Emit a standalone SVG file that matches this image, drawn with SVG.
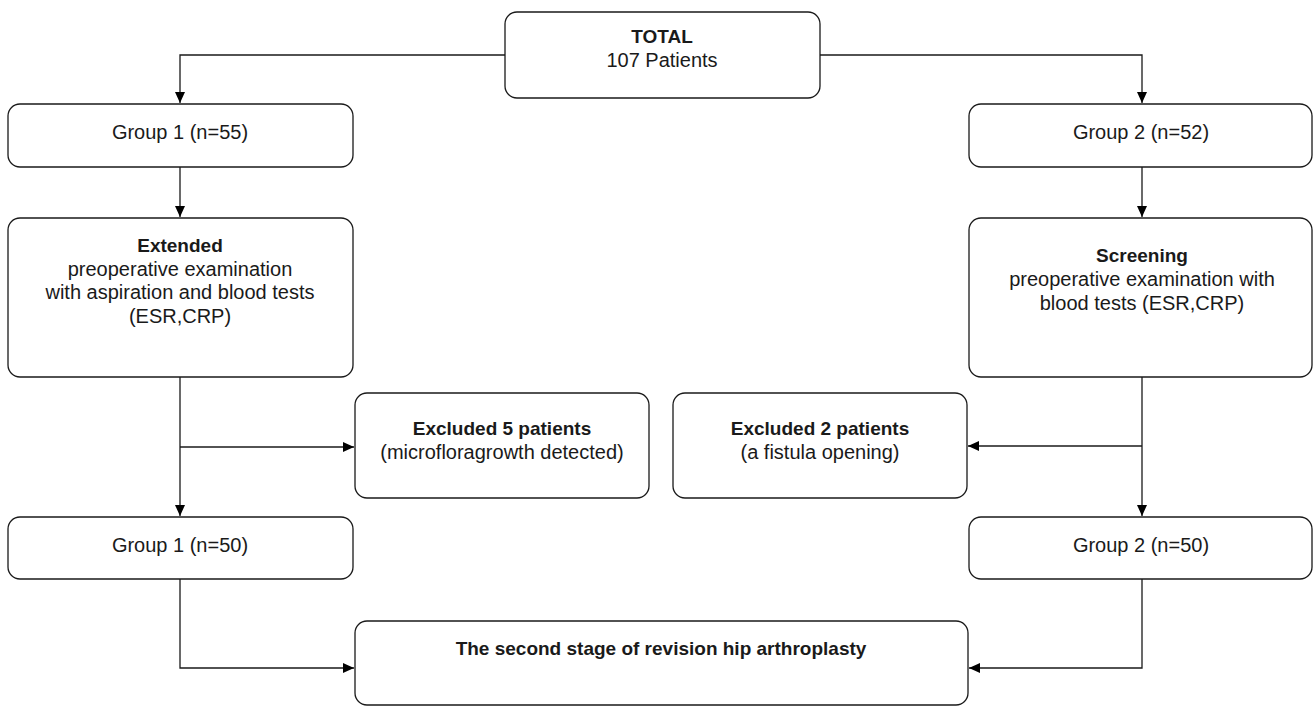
<svg xmlns="http://www.w3.org/2000/svg" width="1313" height="706" viewBox="0 0 1313 706">
<style>
.box{fill:#fff;stroke:#1a1a1a;stroke-width:1.3}
.t{font-family:"Liberation Sans",Arial,sans-serif;font-size:20px;fill:#1a1a1a;text-anchor:middle}
.b{font-weight:bold;font-size:19px}
.c{fill:none;stroke:#1a1a1a;stroke-width:1.3}
</style>
<defs>
<marker id="ah" markerUnits="userSpaceOnUse" markerWidth="12" markerHeight="10" refX="11" refY="5" orient="auto">
<path d="M0,0 L11,5 L0,10 Z" fill="#000"/>
</marker>
</defs>
<rect width="1313" height="706" fill="#fff"/>
<g id="connectors">
<path class="c" d="M505,55 H180 V103" marker-end="url(#ah)"/>
<path class="c" d="M820,55 H1142 V103" marker-end="url(#ah)"/>
<path class="c" d="M180,167 V217" marker-end="url(#ah)"/>
<path class="c" d="M1142,167 V217" marker-end="url(#ah)"/>
<path class="c" d="M180,377 V516" marker-end="url(#ah)"/>
<path class="c" d="M180,447 H354" marker-end="url(#ah)"/>
<path class="c" d="M1142,377 V516" marker-end="url(#ah)"/>
<path class="c" d="M1142,446 H968" marker-end="url(#ah)"/>
<path class="c" d="M180,579 V668 H354" marker-end="url(#ah)"/>
<path class="c" d="M1142,579 V668 H969" marker-end="url(#ah)"/>
</g>
<g id="total">
<rect class="box" x="505" y="12" width="315" height="86" rx="12"/>
<text class="t b" x="662" y="43">TOTAL</text>
<text class="t" x="662" y="67">107 Patients</text>
</g>
<g id="group1">
<rect class="box" x="8" y="104" width="345" height="63" rx="12"/>
<text class="t" x="180" y="139">Group 1 (n=55)</text>
</g>
<g id="group2">
<rect class="box" x="969" y="104" width="343" height="63" rx="12"/>
<text class="t" x="1141" y="139">Group 2 (n=52)</text>
</g>
<g id="extended">
<rect class="box" x="8" y="218" width="345" height="159" rx="12"/>
<text class="t b" x="180" y="252">Extended</text>
<text class="t" x="180" y="275.5">preoperative examination</text>
<text class="t" x="180" y="299">with aspiration and blood tests</text>
<text class="t" x="180" y="323">(ESR,CRP)</text>
</g>
<g id="screening">
<rect class="box" x="969" y="218" width="343" height="159" rx="12"/>
<text class="t b" x="1142" y="262">Screening</text>
<text class="t" x="1142" y="286">preoperative examination with</text>
<text class="t" x="1142" y="310">blood tests (ESR,CRP)</text>
</g>
<g id="excluded5">
<rect class="box" x="355" y="393" width="294" height="105" rx="12"/>
<text class="t b" x="502" y="435">Excluded 5 patients</text>
<text class="t" x="502" y="459">(microfloragrowth detected)</text>
</g>
<g id="excluded2">
<rect class="box" x="673" y="393" width="294" height="105" rx="12"/>
<text class="t b" x="820" y="435">Excluded 2 patients</text>
<text class="t" x="820" y="459">(a fistula opening)</text>
</g>
<g id="group1b">
<rect class="box" x="8" y="517" width="345" height="62" rx="12"/>
<text class="t" x="180" y="552">Group 1 (n=50)</text>
</g>
<g id="group2b">
<rect class="box" x="969" y="517" width="343" height="62" rx="12"/>
<text class="t" x="1141" y="552">Group 2 (n=50)</text>
</g>
<g id="final">
<rect class="box" x="355" y="621" width="613" height="84" rx="12"/>
<text class="t b" x="661" y="655">The second stage of revision hip arthroplasty</text>
</g>
</svg>
